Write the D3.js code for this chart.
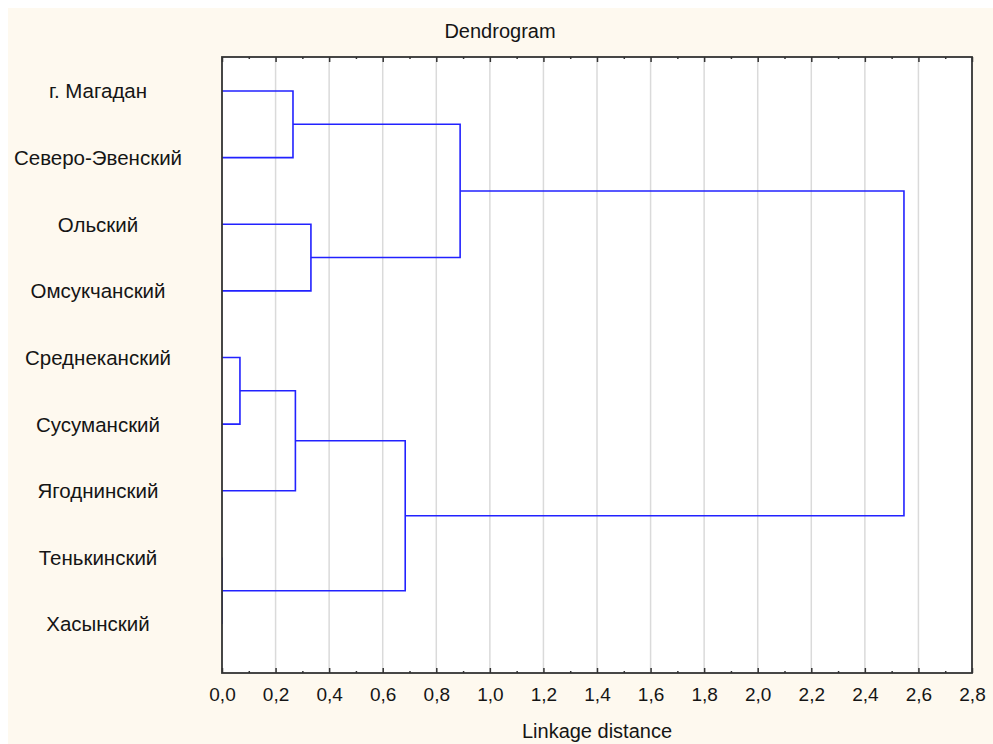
<!DOCTYPE html>
<html>
<head>
<meta charset="utf-8">
<script src="https://cdn.jsdelivr.net/npm/d3@7"></script>
<style>
body { margin:0; background:#fff; }
text { font-family:"Liberation Sans", Arial, sans-serif; fill:#151515; }
</style>
</head>
<body>
<div id="plot"></div>
<script>
// leaves, top to bottom
var leaves = ["г. Магадан","Северо-Эвенский","Ольский","Омсукчанский",
    "Среднеканский","Сусуманский","Ягоднинский","Тенькинский","Хасынский"];

// linkage steps: cluster ids 0..8 are leaves, step i makes id 9+i
var mergeA = [7, 4, 0, 10, 2, 12, 11, 15];
var mergeB = [8, 5, 1, 6, 3, 9, 13, 14];
var mergeDist = [0.0, 0.067, 0.265, 0.274, 0.332, 0.684, 0.889, 2.546];

var xTicks = [0,0.2,0.4,0.6,0.8,1.0,1.2,1.4,1.6,1.8,2.0,2.2,2.4,2.6,2.8];
var xMinor = [0.1,0.3,0.5,0.7,0.9,1.1,1.3,1.5,1.7,1.9,2.1,2.3,2.5,2.7];

var W = 993, H = 744;
var frame = {l:222, r:972, t:57, b:673};

var svg = d3.select('#plot').append('svg')
    .attr('width', W).attr('height', H);

svg.append('rect')
    .attr('x', 8).attr('y', 8)
    .attr('width', W - 8).attr('height', H - 8)
    .style('fill', '#fef9ef');

svg.append('rect')
    .attr('x', frame.l).attr('y', frame.t)
    .attr('width', frame.r - frame.l).attr('height', frame.b - frame.t)
    .style('fill', '#fff');

svg.append('clipPath').attr('id', 'clip')
    .append('rect')
    .attr('x', frame.l).attr('y', frame.t)
    .attr('width', frame.r - frame.l).attr('height', frame.b - frame.t);

var x = d3.scaleLinear().domain([0, 2.8]).range([frame.l, frame.r]);
var y = d3.scalePoint().domain(leaves).range([frame.t + 34, frame.b - 49]);

var locale = d3.formatLocale({decimal:",", thousands:" ", grouping:[3], currency:["",""]});
var fmt = locale.format(".1f");

// grid
svg.append('g').selectAll('line')
    .data(xTicks.filter(function(d){ return d > 0 && d < 2.8; }))
    .enter().append('line')
    .attr('x1', function(d){ return x(d); })
    .attr('x2', function(d){ return x(d); })
    .attr('y1', frame.t).attr('y2', frame.b)
    .style('stroke', '#dadada')
    .style('stroke-width', 1.5);

// axes (ticks pointing inward)
var xAxisBottom = svg.append('g')
    .attr('transform', 'translate(0,' + frame.b + ')')
    .call(d3.axisBottom(x).tickValues(xTicks).tickFormat(fmt)
        .tickSizeInner(-5).tickSizeOuter(0).tickPadding(15));
xAxisBottom.select('.domain').remove();
xAxisBottom.selectAll('text').style('font-size', '19px').style('fill', '#151515')
    .style('font-family', '"Liberation Sans", Arial, sans-serif');

var xMinorBottom = svg.append('g')
    .attr('transform', 'translate(0,' + frame.b + ')')
    .call(d3.axisBottom(x).tickValues(xMinor).tickFormat('')
        .tickSizeInner(-2).tickSizeOuter(0));
xMinorBottom.select('.domain').remove();

var xAxisTop = svg.append('g')
    .attr('transform', 'translate(0,' + frame.t + ')')
    .call(d3.axisTop(x).tickValues(xTicks).tickFormat('')
        .tickSizeInner(-5).tickSizeOuter(0));
xAxisTop.select('.domain').remove();

var xMinorTop = svg.append('g')
    .attr('transform', 'translate(0,' + frame.t + ')')
    .call(d3.axisTop(x).tickValues(xMinor).tickFormat('')
        .tickSizeInner(-2).tickSizeOuter(0));
xMinorTop.select('.domain').remove();

svg.selectAll('.tick line').style('stroke', '#333').style('stroke-width', 1.5);

// build nodes: y position and height of each cluster id
var nodeY = leaves.map(function(d){ return y(d); });
var nodeH = leaves.map(function(){ return 0; });
var links = [];
mergeDist.forEach(function(d, i){
    var a = mergeA[i], b = mergeB[i];
    links.push({a:a, b:b, d:d});
    nodeY.push((nodeY[a] + nodeY[b]) / 2);
    nodeH.push(d);
});

svg.append('g').attr('clip-path', 'url(#clip)')
    .selectAll('path')
    .data(links)
    .enter().append('path')
    .attr('d', function(l){
        return 'M' + x(nodeH[l.a]) + ',' + nodeY[l.a] +
            'H' + x(l.d) + 'V' + nodeY[l.b] + 'H' + x(nodeH[l.b]);
    })
    .style('fill', 'none')
    .style('stroke', '#2222ff')
    .style('stroke-width', 1.6);

// frame
svg.append('rect')
    .attr('x', frame.l).attr('y', frame.t)
    .attr('width', frame.r - frame.l).attr('height', frame.b - frame.t)
    .style('fill', 'none')
    .style('stroke', '#333')
    .style('stroke-width', 1.8);

// leaf labels
svg.append('g').selectAll('text')
    .data(leaves)
    .enter().append('text')
    .attr('x', 98)
    .attr('y', function(d){ return y(d); })
    .attr('dy', '0.36em')
    .attr('text-anchor', 'middle')
    .style('font-size', '20.5px')
    .text(function(d){ return d; });

svg.append('text')
    .attr('x', 500).attr('y', 38)
    .attr('text-anchor', 'middle')
    .style('font-size', '20px')
    .text('Dendrogram');

svg.append('text')
    .attr('x', (frame.l + frame.r) / 2).attr('y', 738)
    .attr('text-anchor', 'middle')
    .style('font-size', '20px')
    .text('Linkage distance');
</script>
</body>
</html>
